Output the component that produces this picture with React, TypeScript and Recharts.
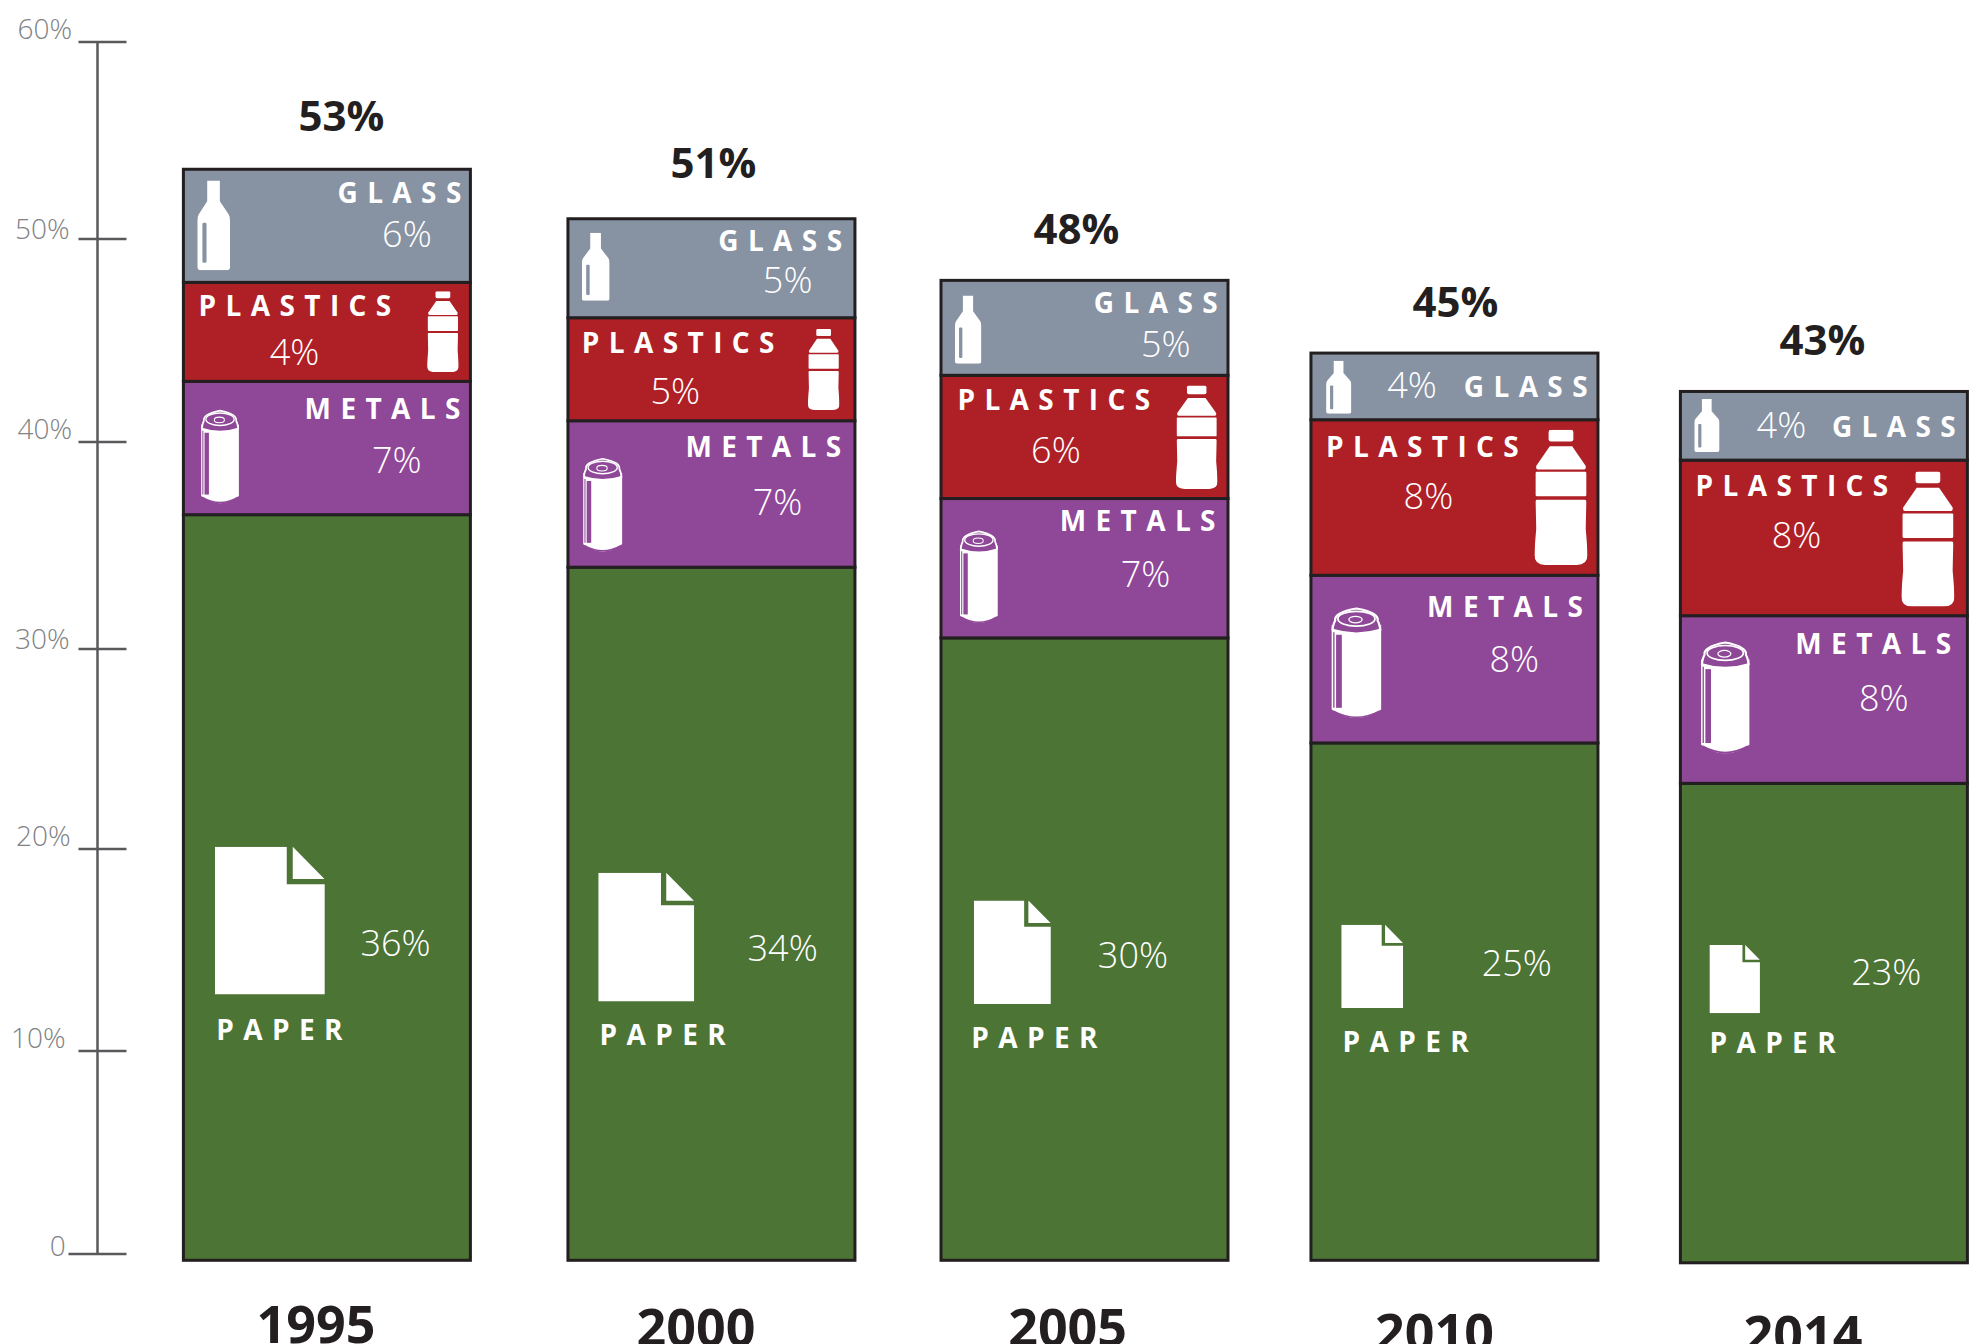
import React from 'react';
import { BarChart, Bar, XAxis, YAxis } from 'recharts';

const years = ['1995', '2000', '2005', '2010', '2014'];

// segment heights as measured against the left axis
const paper = [36.6, 34.0, 30.5, 25.3, 23.3];
const metals = [6.6, 7.25, 6.9, 8.3, 8.3];
const plastics = [4.9, 5.1, 6.1, 7.7, 7.7];
const glass = [5.6, 4.9, 4.7, 3.3, 3.4];

// the numbers as printed on the graphic
const totalLabels = ['53%', '51%', '48%', '45%', '43%'];
const paperLabels = ['36%', '34%', '30%', '25%', '23%'];
const metalLabels = ['7%', '7%', '7%', '8%', '8%'];
const plasticLabels = ['4%', '5%', '6%', '8%', '8%'];
const glassLabels = ['6%', '5%', '5%', '4%', '4%'];

const yTicks = [0, 10, 20, 30, 40, 50, 60];

const data = years.map((year, i) => ({
  year,
  paper: paper[i],
  metals: metals[i],
  plastics: plastics[i],
  glass: glass[i],
}));

const FONT = '"Open Sans", sans-serif';
const BAR_STROKE = '#231f20';
const AXIS_COLOR = '#58595b';
const TICK_TEXT = '#808285';
const K = 1980 / 1568;

// hand layout: the bars are not evenly spaced on the original
const barShift = [0, 10.3, 9.1, 4.8, 0];
const bottomOverhang = [6.3, 6.3, 6.3, 6.3, 8.8];
const yearOffset = [
  [-10.5, 60],
  [-15, 63],
  [-16.5, 63],
  [-19.5, 68],
  [-20.5, 70],
];
const totalOffset = [
  [14.5, -55],
  [2, -57],
  [-8, -53],
  [1, -53],
  [-1.5, -53],
];
const tickLayout: Record<number, { nudge: number; right: number; dy: number }> = {
  60: { nudge: 0, right: 72, dy: -14.5 },
  50: { nudge: -5, right: 69.5, dy: -11.5 },
  40: { nudge: -4, right: 72, dy: -14 },
  30: { nudge: 1, right: 69.5, dy: -11.5 },
  20: { nudge: -1, right: 70.7, dy: -14 },
  10: { nudge: -1, right: 65.7, dy: -14.5 },
  0: { nudge: 0, right: 65.7, dy: -9 },
};

// [nameX, nameY, pctX, pctY, iconX, iconY, iconW, iconH], measured from the segment's top left
const glassLayout = [
  [122, 18, 177, 51, 11, 9, 26, 71],
  [119, 17, 174, 48, 11, 11, 22, 54],
  [121, 17, 178, 50, 11, 12, 21, 54],
  [121, 26, 80, 25, 12, 6, 20, 42],
  [120, 27, 80, 26, 11, 6, 20, 42],
];
const plasticLayout = [
  [12, 18, 88, 55, 193, 7, 25, 64],
  [11, 19, 85, 58, 190, 9, 25, 64],
  [13, 19, 91, 59, 186, 8, 33, 82],
  [12, 21, 93, 60, 177, 8, 42, 107],
  [12, 20, 92, 59, 175, 9, 42, 107],
];
const metalLayout = [
  [96, 21, 169, 62, 13, 22, 32, 77],
  [93, 20, 166, 64, 11, 29, 33, 77],
  [94, 17, 162, 59, 14, 25, 32, 76],
  [92, 24, 161, 66, 15, 25, 42, 91],
  [91, 22, 161, 65, 15, 20, 41, 92],
];
const paperLayout = [
  [26, 407, 168, 339, 25, 263, 87, 117],
  [25, 370, 170, 301, 24, 242, 76, 102],
  [24, 316, 152, 251, 26, 208, 61, 82],
  [25, 236, 163, 174, 24, 144, 49, 66],
  [23, 205, 163, 149, 23, 128, 40, 54],
];

const GlassIcon = ({ bg }: { bg: string }) => (
  <svg viewBox="0 0 96 260" preserveAspectRatio="none" width="100%" height="100%">
    <path
      d="M29 0 H66 V60 L92 98 Q96 104 96 118 V250 Q96 260 86 260 H10 Q0 260 0 250 V118 Q0 104 4 98 L29 60 Z"
      fill="#fff"
    />
    <rect x={15} y={122} width={12} height={116} rx={4} fill={bg} />
  </svg>
);

const PlasticIcon = () => (
  <svg viewBox="0 0 90 232" preserveAspectRatio="none" width="100%" height="100%">
    <rect x={24} y={0} width={42} height={20} rx={4} fill="#fff" />
    <path d="M26 28 H64 L87 62 Q88 68 84 68 H6 Q2 68 3 62 Z" fill="#fff" />
    <rect x={2} y={72} width={86} height={42} rx={2} fill="#fff" />
    <path d="M4 120 H86 Q88 120 88 124 L87 170 Q90 205 90 215 Q90 232 72 232 H18 Q0 232 0 215 Q0 205 3 170 L2 124 Q2 120 4 120 Z" fill="#fff" />
  </svg>
);

const CanIcon = ({ bg }: { bg: string }) => (
  <svg viewBox="0 0 120 280" preserveAspectRatio="none" width="100%" height="100%">
    <path d="M4 44 Q60 72 116 44 V250 Q60 292 4 250 Z" fill="#fff" />
    <path d="M6 56 Q8 40 12 34 Q8 14 60 4 Q112 14 108 34 Q112 40 114 56 Q60 74 6 56 Z" fill={bg} stroke="#fff" strokeWidth={5} />
    <ellipse cx={60} cy={29} rx={42} ry={18} fill="none" stroke="#fff" strokeWidth={4} />
    <ellipse cx={58} cy={31} rx={15} ry={8} fill="none" stroke="#fff" strokeWidth={3} />
    <rect x={14} y={68} width={13} height={178} fill={bg} />
    <path d="M9 62 V246" stroke={bg} strokeWidth={3} />
    <path d="M8 254 Q60 284 112 254" fill="none" stroke={bg} strokeWidth={4} />
  </svg>
);

const PaperIcon = () => (
  <svg viewBox="0 0 329 423" preserveAspectRatio="none" width="100%" height="100%">
    <path d="M0 0 H215 V107 H329 V423 H0 Z" fill="#fff" />
    <path d="M233 0 L328 92 H233 Z" fill="#fff" />
  </svg>
);

const makeSegment = (
  name: string,
  fill: string,
  labels: string[],
  layout: number[][],
  Icon: React.ComponentType<{ bg: string }>,
  isTop: boolean,
  isBase: boolean
) =>
  function Segment(props: any) {
    const { x, y, width, height, index } = props;
    const left = x + barShift[index];
    const [nameX, nameY, pctX, pctY, iconX, iconY, iconW, iconH] = layout[index].map((v) => v * K);
    const h = isBase ? height + bottomOverhang[index] : height;
    return (
      <g>
        <rect x={left} y={y} width={width} height={h} fill={fill} stroke={BAR_STROKE} strokeWidth={3} />
        <text
          x={left + nameX}
          y={y + nameY}
          fontFamily={FONT}
          fontWeight={700}
          fontSize={28}
          letterSpacing={9.4}
          fill="#fff"
          dominantBaseline="central"
        >
          {name}
        </text>
        <text
          x={left + pctX}
          y={y + pctY}
          fontFamily={FONT}
          fontWeight={300}
          fontSize={36}
          fill="#fff"
          textAnchor="middle"
          dominantBaseline="central"
        >
          {labels[index]}
        </text>
        <svg x={left + iconX} y={y + iconY} width={iconW} height={iconH} overflow="visible">
          <Icon bg={fill} />
        </svg>
        {isTop && (
          <text
            x={left + width / 2 + totalOffset[index][0]}
            y={y + totalOffset[index][1]}
            fontFamily={FONT}
            fontWeight={700}
            fontSize={42}
            fill={BAR_STROKE}
            textAnchor="middle"
            dominantBaseline="central"
          >
            {totalLabels[index]}
          </text>
        )}
      </g>
    );
  };

const PaperSegment = makeSegment('PAPER', '#4b7435', paperLabels, paperLayout, PaperIcon, false, true);
const MetalSegment = makeSegment('METALS', '#8f4797', metalLabels, metalLayout, CanIcon, false, false);
const PlasticSegment = makeSegment('PLASTICS', '#af1f26', plasticLabels, plasticLayout, PlasticIcon, false, false);
const GlassSegment = makeSegment('GLASS', '#8792a2', glassLabels, glassLayout, GlassIcon, true, false);

const ValueTick = ({ x, y, payload }: any) => {
  const v = payload.value;
  const t = tickLayout[v];
  const ty = y + t.nudge;
  return (
    <g>
      <line x1={v === 0 ? x - 21 : x - 11} x2={x + 37} y1={ty} y2={ty} stroke={AXIS_COLOR} strokeWidth={2.5} />
      <text
        x={t.right}
        y={ty + t.dy}
        fontFamily={FONT}
        fontWeight={300}
        fontSize={28}
        fill={TICK_TEXT}
        textAnchor="end"
        dominantBaseline="central"
      >
        {v === 0 ? '0' : `${v}%`}
      </text>
    </g>
  );
};

const YearTick = ({ x, y, index, payload }: any) => (
  <text
    x={x + barShift[index] + yearOffset[index][0]}
    y={y + yearOffset[index][1]}
    fontFamily={FONT}
    fontWeight={700}
    fontSize={52}
    fill={BAR_STROKE}
    textAnchor="middle"
    dominantBaseline="central"
  >
    {payload.value}
  </text>
);

export default function App() {
  return (
    <div style={{ position: 'absolute', left: 0, top: 0, width: 1980, height: 1344, overflow: 'hidden', background: '#fff' }}>
      <BarChart
        width={2040}
        height={1344}
        data={data}
        margin={{ top: 42, right: 29.35, bottom: 0, left: 0 }}
        barSize={287}
      >
        <XAxis
          dataKey="year"
          axisLine={false}
          tickLine={false}
          height={90}
          padding={{ left: 41.9, right: 0 }}
          tick={<YearTick />}
          interval={0}
        />
        <YAxis
          type="number"
          domain={[0, 60]}
          ticks={yTicks}
          width={97.5}
          interval={0}
          tickLine={false}
          axisLine={{ stroke: AXIS_COLOR, strokeWidth: 2.5 }}
          tick={<ValueTick />}
        />
        <Bar dataKey="paper" stackId="a" isAnimationActive={false} shape={<PaperSegment />} />
        <Bar dataKey="metals" stackId="a" isAnimationActive={false} shape={<MetalSegment />} />
        <Bar dataKey="plastics" stackId="a" isAnimationActive={false} shape={<PlasticSegment />} />
        <Bar dataKey="glass" stackId="a" isAnimationActive={false} shape={<GlassSegment />} />
      </BarChart>
    </div>
  );
}
